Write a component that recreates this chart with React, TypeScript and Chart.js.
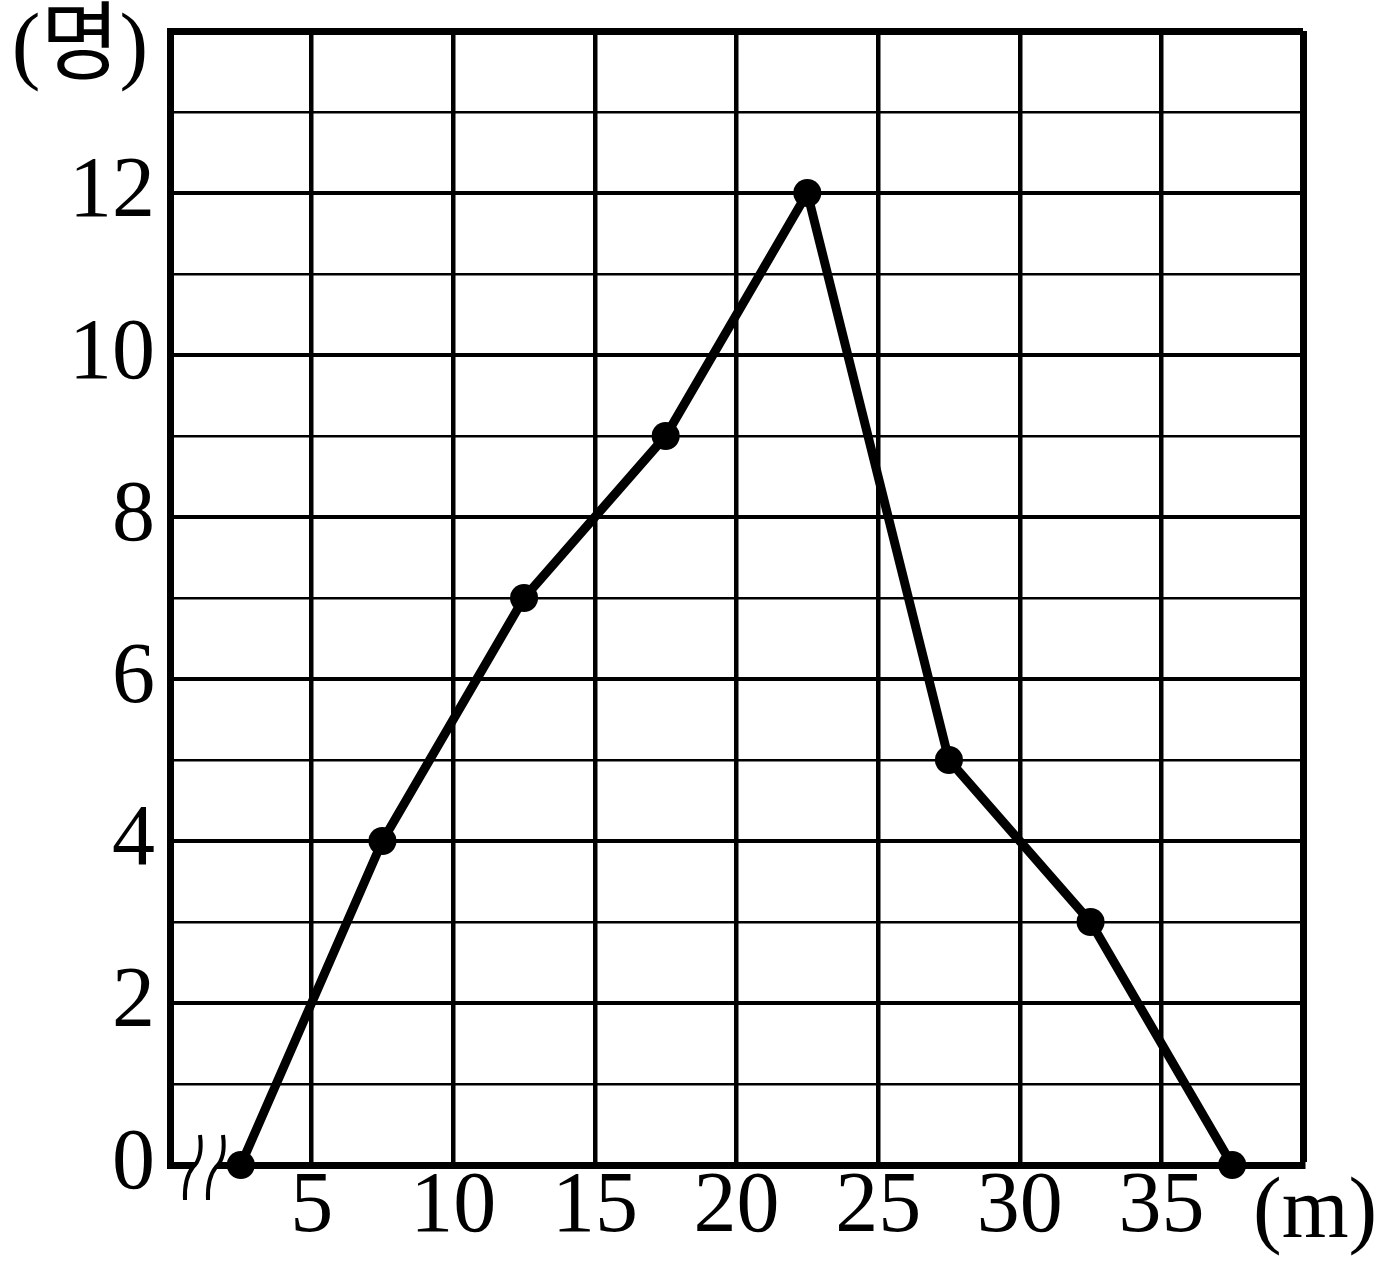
import React, { useEffect, useRef } from 'react';
import { Chart, registerables } from 'chart.js';

Chart.register(...registerables);

// Data: frequency polygon (class midpoints in m, counts in 명)
const distances = [2.5, 7.5, 12.5, 17.5, 22.5, 27.5, 32.5, 37.5];
const counts = [0, 4, 7, 9, 12, 5, 3, 0];
const xTickLabels = [5, 10, 15, 20, 25, 30, 35];
const yTickLabels = [0, 2, 4, 6, 8, 10, 12];
const yUnit = '(명)';
const xUnit = '(m)';

const FONT = "'Liberation Serif', 'Times New Roman', 'Noto Sans CJK KR', serif";

export default function App() {
  const ref = useRef<HTMLCanvasElement>(null);

  useEffect(() => {
    document.body.style.margin = '0';
    const canvas = ref.current!;

    const decor = {
      id: 'decor',
      afterDraw(chart: any) {
        const { ctx, chartArea: a } = chart;
        ctx.save();
        ctx.fillStyle = '#000';
        ctx.font = `86px ${FONT}`;
        ctx.textBaseline = 'alphabetic';
        // y unit
        ctx.textAlign = 'center';
        ctx.fillText(yUnit, a.left - 90, a.top + 42);
        // x unit
        ctx.textAlign = 'left';
        ctx.fillText(xUnit, a.right - 50, a.bottom + 72);

        // break mark on x axis
        const y0 = a.bottom - 30;
        const curve = (tx: number) => {
          ctx.moveTo(tx, y0);
          ctx.quadraticCurveTo(tx + 3, y0 + 23, tx - 7, y0 + 32);
          ctx.quadraticCurveTo(tx - 16, y0 + 43, tx - 15, y0 + 65);
        };
        const x1 = a.left + 30;
        const x2 = a.left + 53;
        ctx.beginPath();
        ctx.moveTo(x1, y0);
        ctx.quadraticCurveTo(x1 + 3, y0 + 23, x1 - 7, y0 + 32);
        ctx.quadraticCurveTo(x1 - 16, y0 + 43, x1 - 15, y0 + 65);
        ctx.lineTo(x2 - 15, y0 + 65);
        ctx.quadraticCurveTo(x2 - 16, y0 + 43, x2 - 7, y0 + 32);
        ctx.quadraticCurveTo(x2 + 3, y0 + 23, x2, y0);
        ctx.closePath();
        ctx.fillStyle = '#fff';
        ctx.fill();
        ctx.strokeStyle = '#000';
        ctx.lineWidth = 4;
        ctx.lineCap = 'butt';
        ctx.beginPath();
        curve(x1);
        ctx.stroke();
        ctx.beginPath();
        curve(x2);
        ctx.stroke();
        ctx.restore();
      },
    };

    const chart = new Chart(canvas, {
      type: 'line',
      data: {
        datasets: [
          {
            data: distances.map((x, i) => ({ x, y: counts[i] })),
            borderColor: '#000',
            backgroundColor: '#000',
            borderWidth: 9,
            tension: 0,
            pointRadius: 14,
            pointBorderWidth: 0,
            pointBackgroundColor: '#000',
            clip: false as any,
          },
        ],
      },
      options: {
        responsive: false,
        animation: false,
        devicePixelRatio: 1,
        layout: { padding: { left: 0, top: 31, right: 96, bottom: 0 } },
        plugins: { legend: { display: false }, tooltip: { enabled: false } },
        scales: {
          x: {
            type: 'linear',
            min: 0,
            max: 40,
            afterFit: (s: any) => {
              s.height = 104;
              s.paddingLeft = 0;
              s.paddingRight = 0;
            },
            ticks: {
              stepSize: 5,
              autoSkip: false,
              maxRotation: 0,
              padding: 0,
              color: '#000',
              font: { family: FONT, size: 86, lineHeight: 1 },
              callback: (v: any) => (xTickLabels.includes(Number(v)) ? String(v) : ''),
            },
            grid: {
              color: '#000',
              drawTicks: false,
              lineWidth: (c: any) => (c.tick && c.tick.value === 40 ? 7 : 4.5),
            },
            border: { display: true, color: '#000', width: 7 },
          },
          y: {
            type: 'linear',
            min: 0,
            max: 14,
            afterFit: (s: any) => {
              s.width = 170;
              s.paddingTop = 0;
              s.paddingBottom = 0;
            },
            ticks: {
              stepSize: 1,
              autoSkip: false,
              padding: 15,
              color: '#000',
              font: { family: FONT, size: 86, lineHeight: 1 },
              callback: (v: any) => (yTickLabels.includes(Number(v)) ? String(v) : ''),
            },
            grid: {
              color: '#000',
              drawTicks: false,
              lineWidth: (c: any) => {
                const v = c.tick ? c.tick.value : 0;
                if (v === 14) return 7;
                return v % 2 === 0 ? 4 : 2.5;
              },
            },
            border: { display: true, color: '#000', width: 7 },
          },
        },
      },
      plugins: [decor],
    });

    return () => chart.destroy();
  }, []);

  return (
    <canvas
      ref={ref}
      width={1399}
      height={1269}
      style={{ position: 'absolute', left: 0, top: 0, display: 'block', width: 1399, height: 1269 }}
    />
  );
}
